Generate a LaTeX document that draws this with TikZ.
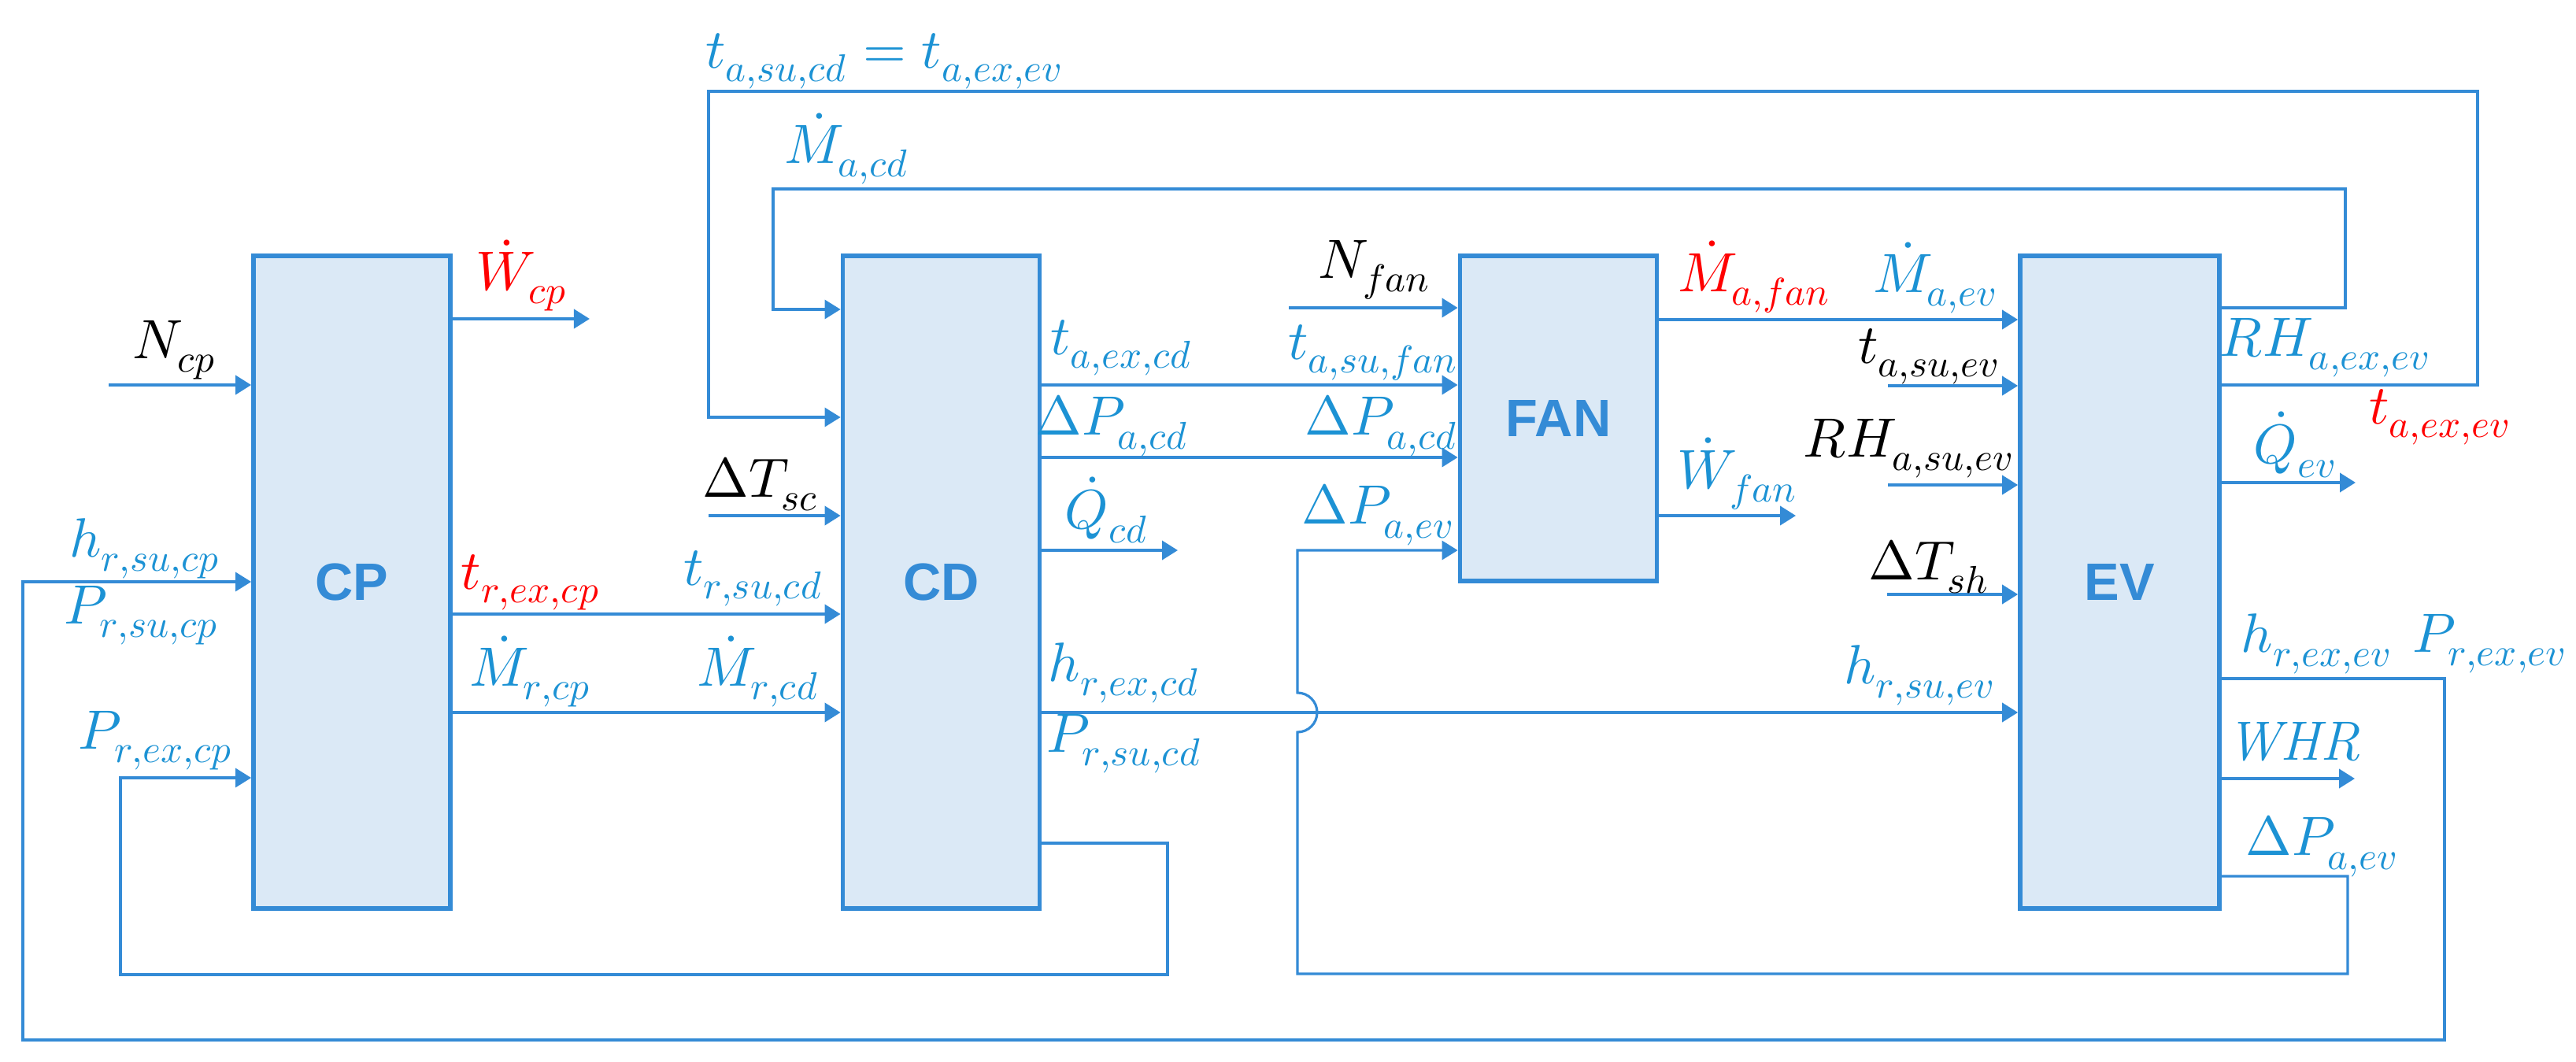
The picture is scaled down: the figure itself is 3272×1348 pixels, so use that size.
\documentclass[tikz,border=0pt]{standalone}
\usepackage{fontspec}
\usepackage{unicode-math}
\newfontfamily\boxfont{Liberation Sans}
\usetikzlibrary{arrows.meta}
\definecolor{lineblue}{RGB}{52,139,214}
\definecolor{textblue}{RGB}{28,146,212}
\definecolor{boxfill}{RGB}{219,233,246}
\definecolor{outred}{RGB}{255,0,0}

\begin{document}
\begin{tikzpicture}[x=0.01cm,y=-0.01cm,
  box/.style={draw=lineblue,fill=boxfill,line width=1.6pt,minimum width=2.5cm,
    text=lineblue,font=\boxfont\bfseries\fontsize{19}{22}\selectfont},
  flow/.style={draw=lineblue,line width=1.1pt,-{Triangle[length=2mm,width=2.4mm]}},
  back/.style={flow,line width=0.9pt},
  lbl/.style={text=textblue,font=\fontsize{20}{24}\selectfont,inner sep=0pt},
  blk/.style={lbl,text=black},
  hot/.style={lbl,text=outred}]
\useasboundingbox (0,0) rectangle (3272,1348);

\node[box,minimum height=8.29cm] (CP) at (447,739.5) {CP};
\node[box,minimum height=8.29cm] (CD) at (1195.5,739.5) {CD};
\node[box,minimum height=4.13cm] (FAN) at (1979.5,531.5) {FAN};
\node[box,minimum height=8.29cm,minimum width=2.53cm] (EV) at (2692.5,739.5) {EV};

% compressor
\coordinate (ncp) at (138,489);
\coordinate (wcp) at (749,405);
\draw[flow] (ncp) -- (ncp -| CP.west);
\draw[flow] (CP.east |- wcp) -- (wcp);
\node[blk] (lncp) at (222,445) {$N_{cp}$};
\node[hot] (lwcp) at (663,350) {$\dot{W}_{cp}$};

\draw[flow] (CP.east |- 0,780) -- (CD.west |- 0,780);
\draw[flow] (CP.east |- 0,905) -- (CD.west |- 0,905);
\node[hot] (ltrexcp) at (674,740) {$t_{r,ex,cp}$};
\node[lbl] (ltrsucd) at (957,735) {$t_{r,su,cd}$};
\node[lbl] (lmrcp) at (674,853) {$\dot{M}_{r,cp}$};
\node[lbl] (lmrcd) at (963,853) {$\dot{M}_{r,cd}$};

\draw[back] (EV.east |- 0,862) -| (3105,1321) -| (29,739) -- (CP.west |- 0,739);
\node[lbl] (lhrsucp) at (184,697) {$h_{r,su,cp}$};
\node[lbl] (lprsucp) at (180,782) {$P_{r,su,cp}$};
\draw[back] (CD.east |- 0,1071) -| (1483,1238) -| (153,988) -- (CP.west |- 0,988);
\node[lbl] (lprexcp) at (198,941) {$P_{r,ex,cp}$};

% condenser
\draw[back] (EV.east |- 0,489) -| (3147,116) -| (900,530) -- (CD.west |- 0,530);
\node[lbl] (ltasucd) at (1123,78) {$t_{a,su,cd}=t_{a,ex,ev}$};
\draw[back] (EV.east |- 0,391) -| (2979,240) -| (982,393) -- (CD.west |- 0,393);
\node[lbl] (lmacd) at (1076,189) {$\dot{M}_{a,cd}$};
\coordinate (dtsc) at (900,655);
\draw[flow] (dtsc) -- (dtsc -| CD.west);
\node[blk] (ldtsc) at (966,615) {$\Delta T_{sc}$};

\draw[flow] (CD.east |- 0,489) -- (FAN.west |- 0,489);
\draw[flow] (CD.east |- 0,581) -- (FAN.west |- 0,581);
\node[lbl] (ltaexcd) at (1425,442) {$t_{a,ex,cd}$};
\node[lbl] (ltasufan) at (1744,448) {$t_{a,su,fan}$};
\node[lbl] (ldpacd) at (1413,541) {$\Delta P_{a,cd}$};
\node[lbl] (ldpacdb) at (1755,541) {$\Delta P_{a,cd}$};
\coordinate (qcd) at (1496,699);
\draw[flow] (CD.east |- qcd) -- (qcd);
\node[lbl] (lqcd) at (1406,648) {$\dot{Q}_{cd}$};

\draw[flow] (CD.east |- 0,905) -- (EV.west |- 0,905);
\node[lbl] (lhrexcd) at (1428,855) {$h_{r,ex,cd}$};
\node[lbl] (lprsucd) at (1428,945) {$P_{r,su,cd}$};
\node[lbl] (lhrsuev) at (2438,858) {$h_{r,su,ev}$};

% fan
\coordinate (nfan) at (1637,391);
\draw[flow] (nfan) -- (nfan -| FAN.west);
\node[blk] (lnfan) at (1746,343) {$N_{fan}$};
\draw[back] (EV.east |- 0,1113) -| (2982,1237) -- (1648,1237) -- (1648,930)
  arc[start angle=-90,end angle=90,radius=0.25cm] -- (1648,699) -- (FAN.west |- 0,699);
\node[lbl] (ldpaev) at (1750,654) {$\Delta P_{a,ev}$};
\node[lbl] (ldpaevb) at (2949,1075) {$\Delta P_{a,ev}$};
\draw[flow] (FAN.east |- 0,406) -- (EV.west |- 0,406);
\node[hot] (lmafan) at (2228,352) {$\dot{M}_{a,fan}$};
\node[lbl] (lmaev) at (2458,353) {$\dot{M}_{a,ev}$};
\coordinate (wfan) at (2281,655);
\draw[flow] (FAN.east |- wfan) -- (wfan);
\node[lbl] (lwfan) at (2207,602) {$\dot{W}_{fan}$};

% evaporator
\coordinate (tasuev) at (2398,490);
\coordinate (rhsuev) at (2398,616);
\coordinate (dtsh) at (2397,755);
\draw[flow] (tasuev) -- (tasuev -| EV.west);
\draw[flow] (rhsuev) -- (rhsuev -| EV.west);
\draw[flow] (dtsh) -- (dtsh -| EV.west);
\node[blk] (ltasuev) at (2450,453) {$t_{a,su,ev}$};
\node[blk] (lrhsuev) at (2424,570) {$RH_{a,su,ev}$};
\node[blk] (ldtsh) at (2450,720) {$\Delta T_{sh}$};
\node[lbl] (lrhexev) at (2953,442) {$RH_{a,ex,ev}$};
\node[hot] (ltaexev) at (3099,530) {$t_{a,ex,ev}$};
\coordinate (qev) at (2992,613);
\coordinate (whr) at (2991,989);
\draw[flow] (EV.east |- qev) -- (qev);
\draw[flow] (EV.east |- whr) -- (whr);
\node[lbl] (lqev) at (2915,565) {$\dot{Q}_{ev}$};
\node[lbl] (lwhr) at (2913,942) {$\mathit{WHR}$};
\node[lbl] (lhrexev) at (2942,818) {$h_{r,ex,ev}$};
\node[lbl] (lprexev) at (3162,818) {$P_{r,ex,ev}$};
\end{tikzpicture}
\end{document}
